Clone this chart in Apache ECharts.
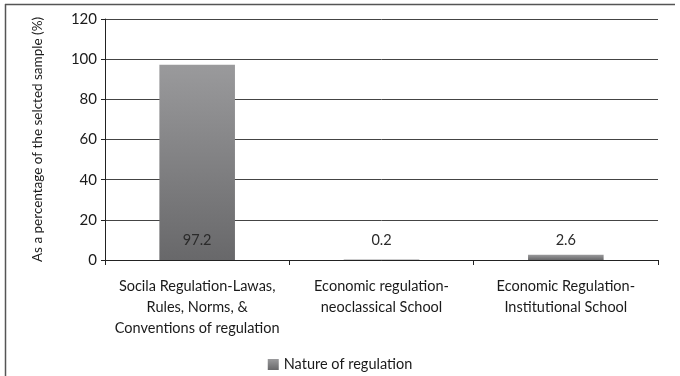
<!DOCTYPE html>
<html>
<head>
<meta charset="utf-8">
<script src="https://cdn.jsdelivr.net/npm/echarts@6/dist/echarts.min.js"></script>
<style>
html,body{margin:0;padding:0;background:#fff;}
#chart{width:680px;height:376px;}
</style>
</head>
<body>
<div id="chart"></div>
<script>
var categories = [
  "Socila Regulation-Lawas,\nRules, Norms, &\nConventions of regulation",
  "Economic regulation-\nneoclassical School",
  "Economic Regulation-\nInstitutional School"
];
var seriesName = "Nature of regulation";
var values = [97.2, 0.2, 2.6];
var yAxisTitle = "As a percentage of the selcted sample (%)";
var yTicks = [0, 20, 40, 60, 80, 100, 120];

var FONT = "Lato";
var chart = echarts.init(document.getElementById('chart'), null, {renderer: 'canvas'});
var barColor = new echarts.graphic.LinearGradient(0, 0, 0, 1, [
  {offset: 0, color: '#9a9a9c'},
  {offset: 1, color: '#68686a'}
]);
chart.setOption({
  animation: false,
  backgroundColor: '#ffffff',
  textStyle: {fontFamily: FONT},
  grid: {left: 105, right: 22, top: 19, bottom: 116},
  legend: {
    show: true,
    data: [seriesName],
    left: 'center',
    top: 352,
    itemWidth: 11,
    itemHeight: 11,
    itemGap: 5,
    textStyle: {fontFamily: FONT, fontSize: 14.5, color: '#1a1a1a'},
    icon: 'rect'
  },
  xAxis: {
    type: 'category',
    data: categories,
    axisLine: {lineStyle: {color: '#222', width: 1}},
    axisTick: {show: true, length: 5, lineStyle: {color: '#222'}},
    axisLabel: {fontFamily: FONT, fontSize: 14.5, color: '#1a1a1a', margin: 16, lineHeight: 21, interval: 0}
  },
  yAxis: {
    type: 'value',
    min: yTicks[0],
    max: yTicks[yTicks.length - 1],
    interval: yTicks[1] - yTicks[0],
    name: yAxisTitle,
    nameLocation: 'middle',
    nameRotate: 90,
    nameGap: 60,
    nameTextStyle: {fontFamily: FONT, fontSize: 13.5, color: '#1a1a1a'},
    axisLine: {show: true, lineStyle: {color: '#222', width: 1}},
    axisTick: {show: true, length: 4, lineStyle: {color: '#222'}},
    axisLabel: {fontFamily: FONT, fontSize: 15, color: '#1a1a1a', margin: 8},
    splitLine: {show: true, lineStyle: {color: '#444', width: 1}}
  },
  series: [{
    name: seriesName,
    type: 'bar',
    data: values,
    barWidth: '41%',
    itemStyle: {color: barColor},
    label: {
      show: true,
      position: 'insideBottom',
      distance: 12,
      fontFamily: FONT,
      fontSize: 14.5,
      color: '#2a2a2a'
    }
  }],
  graphic: [
    {type: 'line', shape: {x1: 5, y1: 4.5, x2: 675, y2: 4.5}, style: {stroke: '#555', lineWidth: 1.5}},
    {type: 'line', shape: {x1: 5.5, y1: 4, x2: 5.5, y2: 376}, style: {stroke: '#555', lineWidth: 1.5}}
  ]
});
</script>
</body>
</html>
